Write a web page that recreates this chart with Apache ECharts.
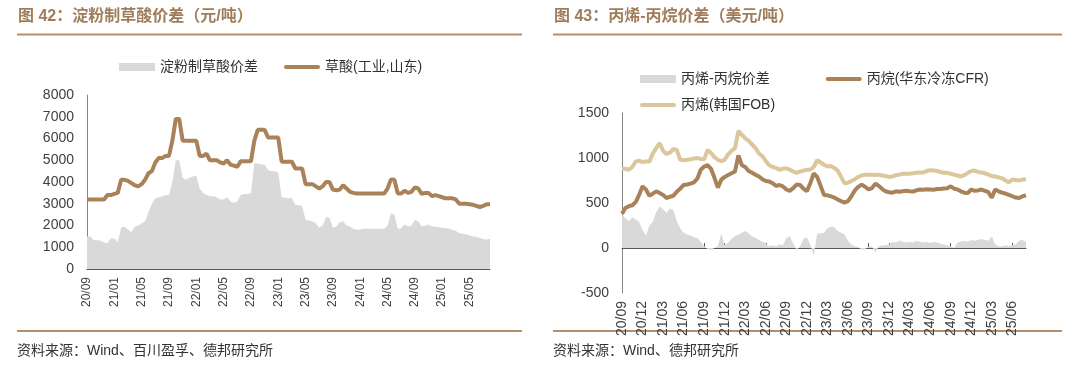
<!DOCTYPE html>
<html>
<head>
<meta charset="utf-8">
<script src="https://cdn.jsdelivr.net/npm/echarts@6/dist/echarts.min.js"></script>
<style>
  html, body { margin: 0; padding: 0; background: #fff; }
  #main { width: 1080px; height: 367px; }
</style>
</head>
<body>
<div id="main"></div>
<script>
// half-month points, 2020/09 .. 2025/08
var spreadStarch = [
  1500,1500,1320,1320,1300,1220,1200,1400,1400,1220,
  1900,1950,1800,1700,1950,2000,2100,2200,2600,3000,
  3250,3300,3350,3400,3400,4000,5000,5000,4200,4100,
  4200,4250,4300,3700,3500,3400,3350,3350,3300,3200,
  3200,3300,3100,3050,3100,3400,3450,3450,3500,4850,
  4850,4800,4800,4550,4500,4500,4450,3300,3280,3250,
  3250,2950,2930,2900,2250,2230,2200,2100,1900,2000,
  2400,2350,1900,1950,2150,2200,2000,1950,1850,1800,
  1820,1850,1850,1850,1850,1850,1850,1850,2000,2550,
  2500,1850,1870,2050,1950,2000,2250,2200,1950,2000,
  2050,1950,1950,1920,1900,1880,1850,1800,1750,1650,
  1620,1600,1550,1500,1480,1430,1380,1350,1400
];
var oxalicAcid = [
  3200,3200,3200,3200,3200,3200,3400,3400,3450,3500,
  4100,4100,4050,3950,3850,3800,3900,4100,4400,4500,
  4900,5100,5100,5200,5200,5900,6900,6900,5900,5900,
  5900,5900,5900,5200,5200,5300,5000,5000,5000,4900,
  4850,5000,4800,4750,4700,4950,4950,4950,4950,5900,
  6400,6400,6400,6050,6050,6050,6050,4930,4930,4930,
  4930,4620,4620,4620,3900,3900,3900,3800,3700,3800,
  4000,4000,3650,3620,3650,3850,3700,3550,3500,3470,
  3470,3470,3470,3470,3470,3470,3470,3470,3700,4120,
  4100,3470,3470,3600,3500,3550,3750,3700,3450,3500,
  3500,3350,3400,3350,3300,3250,3250,3250,3200,3000,
  3000,3000,2980,2950,2900,2850,2900,2980,2980
];
var spreadPdh = [
  370,330,300,340,320,290,200,140,250,290,
  400,460,430,390,440,420,300,220,170,150,
  140,120,110,70,20,-10,-20,0,20,160,
  30,60,100,130,150,170,190,160,130,110,
  90,70,50,20,30,20,40,30,110,130,
  50,-20,20,100,120,40,-90,160,160,170,
  220,240,230,190,170,150,80,40,20,10,
  -20,-10,10,20,-50,20,30,30,40,70,
  60,80,70,60,70,60,80,70,60,70,
  50,70,60,50,40,30,20,0,60,70,
  80,70,90,80,90,100,90,80,130,40,
  20,20,30,20,30,40,80,90,70
];
var propane = [
  380,445,465,475,510,590,685,650,580,605,
  630,610,590,555,570,580,625,660,700,705,
  715,730,770,870,905,920,880,780,670,760,
  790,810,830,850,1030,920,900,855,835,815,
  795,765,745,740,720,690,700,685,650,635,
  665,705,700,660,630,720,830,790,690,590,
  585,575,560,540,520,505,520,575,640,680,
  705,680,650,665,715,690,655,630,620,615,
  630,625,630,635,630,628,640,650,648,652,
  650,648,655,655,660,665,685,660,650,630,
  615,610,650,635,640,650,635,620,560,650,
  630,615,605,590,575,560,555,575,585
];
var propylene = [
  880,880,870,900,960,970,955,960,960,1050,
  1110,1165,1080,1045,1060,1100,1090,980,975,980,
  985,995,1000,990,985,1090,1055,1010,980,965,
  980,1040,1080,1110,1300,1260,1220,1190,1150,1110,
  1050,1020,965,920,900,890,870,880,885,870,
  850,835,850,860,870,870,900,975,950,925,
  905,910,890,860,790,720,725,745,765,790,
  805,815,815,815,810,815,805,800,790,795,
  810,815,825,825,825,830,835,838,840,855,
  865,860,855,845,835,835,825,815,805,795,
  810,835,855,860,845,840,830,815,800,795,
  785,775,750,730,760,755,750,760,765
];

var dates = [];
for (var i = 0; i < oxalicAcid.length; i++) {
  var m = 9 + Math.floor(i / 2);
  var y = 2020 + Math.floor((m - 1) / 12);
  var mm = ((m - 1) % 12) + 1;
  dates.push(String(y).slice(2) + '/' + (mm < 10 ? '0' + mm : mm));
}

var brown = '#a9825a';
var tan = '#dcc79d';
var gray = '#d9d9d9';
var titleColor = '#a07d5a';
var ruleColor = '#b58f6b';
var font = 'Liberation Sans, Arial, Noto Sans CJK SC, sans-serif';
var barIcon = 'path://M2,0 L34,0 A2,2 0 0 1 34,4 L2,4 A2,2 0 0 1 2,0 Z';

function xAxisOf(gridIndex, every, fontSize) {
  return {
    type: 'category', gridIndex: gridIndex, data: dates, boundaryGap: false,
    axisLine: { lineStyle: { color: '#595959', width: 1 } },
    axisTick: { inside: true, length: 5, interval: every - 1, lineStyle: { color: '#595959' } },
    axisLabel: { interval: every - 1, rotate: 90, margin: 8, color: '#404040', fontSize: fontSize, fontFamily: font },
    splitLine: { show: false }
  };
}
function yAxisOf(gridIndex, min, max, step) {
  return {
    type: 'value', gridIndex: gridIndex, min: min, max: max, interval: step,
    axisLine: { show: true, lineStyle: { color: '#868686', width: 1 } },
    axisTick: { show: false },
    axisLabel: {
      margin: 13, color: '#404040', fontSize: 14, fontFamily: font,
      formatter: function (v) { return String(v); }
    },
    splitLine: { show: false }
  };
}

var legendText = { fontSize: 14, color: '#333', fontFamily: font };

var chart = echarts.init(document.getElementById('main'));
chart.setOption({
  backgroundColor: '#fff',
  animation: false,
  textStyle: { fontFamily: font },
  grid: [
    { left: 87, top: 95, width: 403, height: 174 },
    { left: 622, top: 113, width: 404, height: 180 }
  ],
  legend: [
    {
      left: 114, top: 55, itemWidth: 36, itemHeight: 8, itemGap: 26, textStyle: legendText,
      data: [{ name: '淀粉制草酸价差', icon: 'rect' }, { name: '草酸(工业,山东)', icon: barIcon }]
    },
    {
      left: 635, top: 67, itemWidth: 36, itemHeight: 8, itemGap: 56, textStyle: legendText,
      data: [{ name: '丙烯-丙烷价差', icon: 'rect' }, { name: '丙烷(华东冷冻CFR)', icon: barIcon }]
    },
    {
      left: 635, top: 93, itemWidth: 36, itemHeight: 8, textStyle: legendText,
      data: [{ name: '丙烯(韩国FOB)', icon: barIcon }]
    }
  ],
  xAxis: [xAxisOf(0, 8, 12), xAxisOf(1, 6, 14)],
  yAxis: [yAxisOf(0, 0, 8000, 1000), yAxisOf(1, -500, 1500, 500)],
  series: [
    {
      name: '淀粉制草酸价差', type: 'line', xAxisIndex: 0, yAxisIndex: 0, data: spreadStarch,
      color: gray, symbol: 'none', lineStyle: { width: 0 }, areaStyle: { color: gray, opacity: 1 }
    },
    {
      name: '草酸(工业,山东)', type: 'line', xAxisIndex: 0, yAxisIndex: 0, data: oxalicAcid,
      color: brown, symbol: 'none', lineStyle: { width: 4, color: brown }
    },
    {
      name: '丙烯-丙烷价差', type: 'line', xAxisIndex: 1, yAxisIndex: 1, data: spreadPdh,
      color: gray, symbol: 'none', lineStyle: { width: 0 }, areaStyle: { color: gray, opacity: 1 }
    },
    {
      name: '丙烷(华东冷冻CFR)', type: 'line', xAxisIndex: 1, yAxisIndex: 1, data: propane,
      color: brown, symbol: 'none', lineStyle: { width: 4, color: brown }
    },
    {
      name: '丙烯(韩国FOB)', type: 'line', xAxisIndex: 1, yAxisIndex: 1, data: propylene,
      color: tan, symbol: 'none', lineStyle: { width: 4, color: tan }
    }
  ],
  graphic: [
    { type: 'text', left: 18, top: 9, style: { text: '图 42：淀粉制草酸价差（元/吨）', font: 'bold 16px ' + font, fill: titleColor } },
    { type: 'text', left: 554, top: 9, style: { text: '图 43：丙烯-丙烷价差（美元/吨）', font: 'bold 16px ' + font, fill: titleColor } },
    { type: 'line', shape: { x1: 17, y1: 34.5, x2: 522, y2: 34.5 }, style: { stroke: ruleColor, lineWidth: 2 } },
    { type: 'line', shape: { x1: 553, y1: 34.5, x2: 1062, y2: 34.5 }, style: { stroke: ruleColor, lineWidth: 2 } },
    { type: 'line', shape: { x1: 17, y1: 331, x2: 522, y2: 331 }, style: { stroke: ruleColor, lineWidth: 2 } },
    { type: 'line', shape: { x1: 553, y1: 331, x2: 1062, y2: 331 }, style: { stroke: ruleColor, lineWidth: 2 } },
    { type: 'text', left: 17, top: 344, style: { text: '资料来源：Wind、百川盈孚、德邦研究所', font: '14px ' + font, fill: '#333' } },
    { type: 'text', left: 553, top: 344, style: { text: '资料来源：Wind、德邦研究所', font: '14px ' + font, fill: '#333' } }
  ]
});
</script>
</body>
</html>
